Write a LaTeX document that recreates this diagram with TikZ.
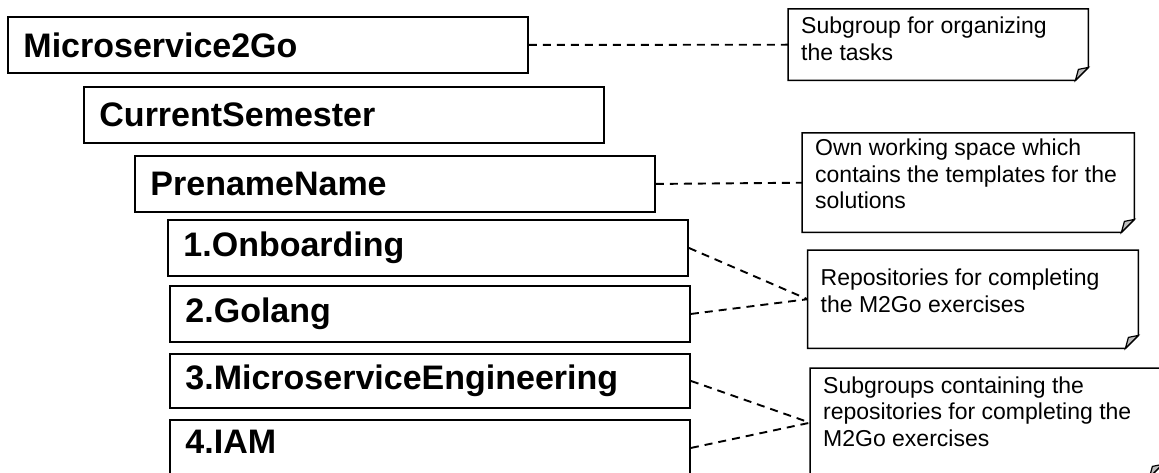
\documentclass[tikz,border=0pt]{standalone}
\usepackage{fontspec}
\setmainfont{Liberation Sans}
\definecolor{flapgray}{HTML}{BDBDBD}
\newcommand\notetext[4]{\parbox[c][#2pt][t]{#1pt}{\fontsize{23}{26.5}\selectfont\vspace*{#3pt}\raggedright\leftskip=13pt\relax #4\par}}
\newcommand\noteframe[1]{%
  \draw[noteline] (#1.north west) -- (#1.north east) -- ([yshift=13pt]#1.south east) -- ([xshift=-13pt]#1.south east) -- (#1.south west) -- cycle;
  \filldraw[noteflap] ([yshift=13pt]#1.south east) -- ([xshift=-13pt]#1.south east) -- ([xshift=-10pt,yshift=11pt]#1.south east) -- cycle;}
\tikzset{
  box/.style={draw, line width=1.9pt, anchor=north west, minimum width=520pt, minimum height=56pt,
    inner xsep=15.5pt, inner ysep=0pt, text width=489pt, align=left, font=\fontsize{34}{40}\selectfont\bfseries},
  note/.style={anchor=north west, inner sep=0pt},
  noteline/.style={line width=1.5pt},
  noteflap/.style={line width=1.2pt, fill=flapgray},
  conn/.style={line width=1.9pt, dash pattern=on 8pt off 6pt},
}
\begin{document}
\begin{tikzpicture}[x=1pt,y=-1pt]
\useasboundingbox (0,0) rectangle (1159,473);
% folder boxes
\node[box] (b1) at (7,16) {Microservice2Go};
\node[box] (b2) at (83,86) {CurrentSemester};
\node[box] (b3) at (134,155) {PrenameName};
\node[box] (b4) at (167,219) {1.Onboarding};
\node[box] (b5) at (169,285) {2.Golang};
\node[box, minimum height=54pt] (b6) at (169,353) {3.MicroserviceEngineering};
\node[box, text depth=12.3pt] (b7) at (169,419) {4.IAM};
% notes
\node[note] (n1) at (788,9) {\notetext{300}{71}{6}{\strut Subgroup for organizing\\\strut the tasks}};
\node[note] (n2) at (802,133) {\notetext{332}{99}{4}{\strut Own working space which\\\strut contains the templates for the\\\strut solutions}};
\node[note] (n3) at (807.5,250) {\notetext{330.5}{98}{17}{\strut Repositories for completing\\\strut the M2Go exercises}};
\node[note] (n4) at (810,368) {\notetext{352}{109}{6.5}{\strut Subgroups containing the\\\strut repositories for completing the\\\strut M2Go exercises}};
\noteframe{n1}
\noteframe{n2}
\noteframe{n3}
\noteframe{n4}
% connectors
\draw[conn] (b1.east) -- (n1.west);
\draw[conn] (b3.east) -- (n2.west);
\draw[conn] (b4.east) -- (n3.west);
\draw[conn] (b5.east) -- (n3.west);
\draw[conn] (b6.east) -- (n4.west);
\draw[conn] (b7.east) -- (n4.west);
\end{tikzpicture}
\end{document}
